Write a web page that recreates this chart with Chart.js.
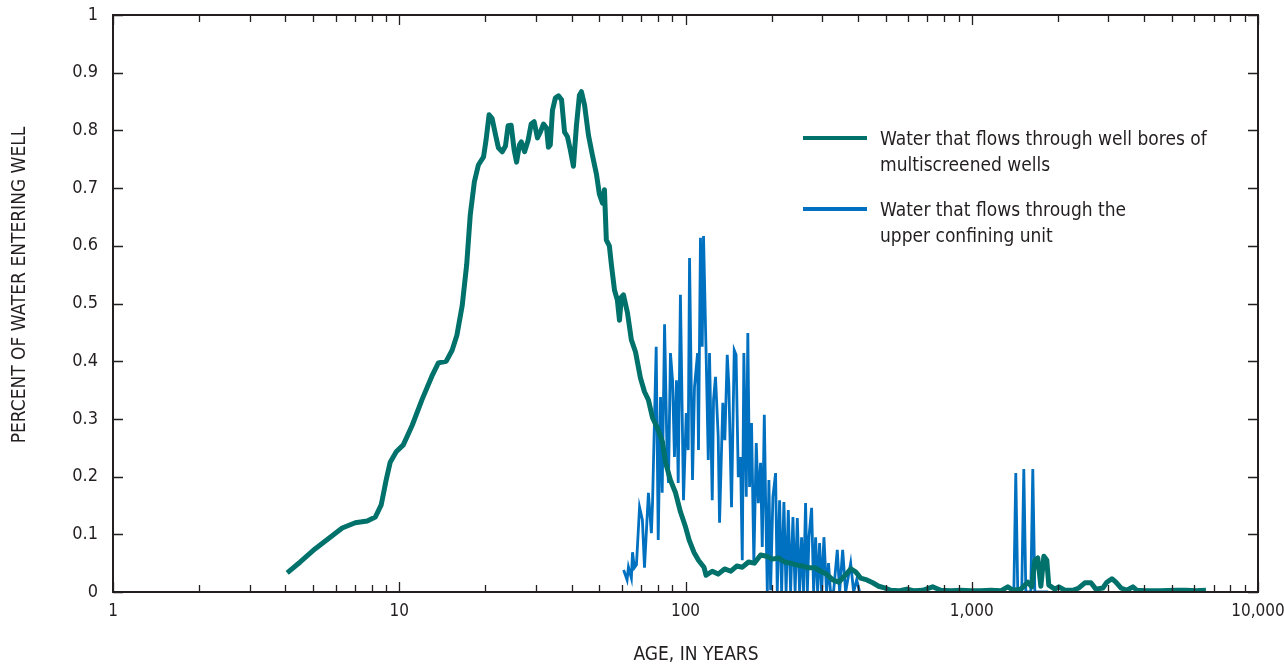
<!DOCTYPE html>
<html>
<head>
<meta charset="utf-8">
<script src="https://cdn.jsdelivr.net/npm/chart.js@4.4.1/dist/chart.umd.min.js"></script>
<style>
  html, body { margin: 0; padding: 0; background: #ffffff; }
  #wrap { width: 1284px; height: 667px; position: relative; }
</style>
</head>
<body>
<div id="wrap"><canvas id="ageChart" width="1284" height="667"></canvas></div>
<script>
// ========= Data =========
// Water that flows through well bores of multiscreened wells
const ageBores = [4.06, 4.51, 5.09, 5.74, 6.32, 7.02, 7.73, 8.25, 8.65, 9.0, 9.3, 9.76, 10.33, 11.1, 12.0, 13.0, 13.7, 14.6, 15.3, 15.9,
    16.6, 17.2, 17.7, 18.3, 18.9, 19.7, 20.1, 20.6, 21.1, 21.7, 22.2, 22.9, 23.5, 24.0, 24.6, 25.2, 25.7, 26.3, 26.7, 27.4,
    28.2, 28.9, 29.6, 30.4, 31.1, 31.9, 32.7, 33.2, 33.7, 34.3, 35.1, 36.0, 36.9, 37.8, 38.7, 39.6, 40.6, 41.6, 42.6, 43.3,
    44.4, 45.8, 47.3, 48.9, 50.0, 51.3, 52.1, 52.9, 54.2, 55.1, 56.5, 57.8, 58.8, 59.7, 60.7, 62.7, 64.7, 66.9, 69.6, 71.9,
    74.2, 76.7, 79.8, 83.1, 85.1, 88.6, 92.3, 96.0, 100, 103, 107, 111, 116, 118, 124, 130, 137, 144, 151, 158,
    166, 174, 183, 192, 201, 211, 222, 233, 244, 257, 269, 283, 297, 311, 327, 343, 360, 378, 393, 409,
    430, 451, 473, 496, 521, 556, 593, 632, 674, 730, 779, 845, 915, 992, 1075, 1165, 1263, 1336, 1391, 1484,
    1570, 1621, 1661, 1701, 1743, 1786, 1829, 1858, 1951, 2015, 2114, 2255, 2367, 2484, 2608, 2714, 2871, 2965, 3087, 3188,
    3319, 3483, 3656, 3776, 4059, 4580, 5169, 5602, 6071, 6580];
const pctBores = [0.033, 0.052, 0.075, 0.095, 0.111, 0.120, 0.123, 0.130, 0.151, 0.194, 0.225, 0.243, 0.255, 0.289, 0.333, 0.374, 0.397, 0.400, 0.419, 0.445,
    0.497, 0.567, 0.653, 0.711, 0.740, 0.754, 0.783, 0.827, 0.821, 0.792, 0.770, 0.763, 0.773, 0.808, 0.809, 0.766, 0.745, 0.775, 0.780, 0.763,
    0.783, 0.811, 0.815, 0.787, 0.797, 0.811, 0.804, 0.771, 0.775, 0.835, 0.856, 0.860, 0.853, 0.797, 0.789, 0.766, 0.738, 0.809, 0.861, 0.867,
    0.844, 0.792, 0.757, 0.723, 0.690, 0.674, 0.697, 0.610, 0.600, 0.567, 0.523, 0.506, 0.471, 0.511, 0.515, 0.484, 0.437, 0.416, 0.371, 0.347,
    0.333, 0.302, 0.284, 0.260, 0.225, 0.194, 0.172, 0.139, 0.113, 0.090, 0.069, 0.055, 0.043, 0.029, 0.036, 0.031, 0.040, 0.036, 0.045, 0.043,
    0.052, 0.050, 0.064, 0.062, 0.057, 0.059, 0.052, 0.050, 0.047, 0.045, 0.042, 0.042, 0.036, 0.031, 0.021, 0.017, 0.028, 0.040, 0.035, 0.024,
    0.021, 0.016, 0.010, 0.007, 0.003, 0.002, 0.005, 0.002, 0.003, 0.009, 0.003, 0.002, 0.003, 0.002, 0.002, 0.003, 0.002, 0.009, 0.003, 0.005,
    0.017, 0.009, 0.055, 0.059, 0.010, 0.062, 0.055, 0.012, 0.005, 0.009, 0.003, 0.003, 0.007, 0.016, 0.016, 0.005, 0.007, 0.017, 0.023, 0.017,
    0.007, 0.003, 0.009, 0.003, 0.002, 0.002, 0.003, 0.003, 0.002, 0.003];

// Water that flows through the upper confining unit (null = no value, line breaks)
const ageConfining = [60.8, 62.5, 63.2, 64.7, 65.3, 66.3, 67.4, 69.1, 70.7, 71.9, 74.2, 76.0, 76.7, 79.0, 80.3, 81.8, 82.9, 84.5, 86.3, 87.2,
    88.6, 90.1, 91.5, 93.0, 94.3, 96.0, 98.4, 100.6, 102.2, 103.3, 105.8, 107.5, 110.2, 111.0, 112.8, 114.4, 115.6, 118.1, 120.1, 121.3,
    124.0, 125.3, 127.3, 130.1, 131.5, 135.0, 137.2, 139.9, 141.7, 144.8, 148.0, 150.2, 152.9, 155.7, 157.9, 159.9, 163.0, 165.1, 167.4, 170.1,
    173.3, 176.7, 179.6, 182.9, 185.4, 188.5, 190.4, 193.1, 195.6, 198.3, 202.0, 206.4, 209.2, 213.2, 216.7, 220.7, 224.6, 228.6, 232.9, 237.3,
    241.5, 245.8, 250.4, 254.4, 258.5, 262.7, 266.5, 270, 275.8, 280.3, 284.8, 289.4, 294.1, 298.9, 304.5, 311, 316, 321, 329, 339,
    345.5, 354, 362.6, 377.6, 386.7, 396.2, 405.9, 800, 1403, 1425, 1448, 1495, 1520, 1545, 1608, 1634, 1661, 1850];
const pctConfining = [0.038, 0.021, 0.043, 0.024, 0.069, 0.042, 0.047, 0.147, 0.125, 0.042, 0.172, 0.102, 0.154, 0.425, 0.090, 0.338, 0.172, 0.464, 0.229, 0.189,
    0.414, 0.367, 0.234, 0.367, 0.189, 0.515, 0.159, 0.310, 0.246, 0.579, 0.194, 0.355, 0.414, 0.246, 0.614, 0.425, 0.617, 0.407, 0.229, 0.414,
    0.159, 0.333, 0.373, 0.269, 0.120, 0.328, 0.263, 0.411, 0.359, 0.147, 0.419, 0.411, 0.199, 0.234, 0.055, 0.414, 0.165, 0.449, 0.182, 0.293,
    0.050, 0.258, 0.154, 0.224, 0.078, 0.307, 0.165, 0.000, 0.194, 0.003, 0.165, 0.206, 0.000, 0.159, 0.000, 0.156, 0.000, 0.142, 0.000, 0.130,
    0.000, 0.128, 0.000, 0.095, 0.000, 0.154, 0.000, 0.095, 0.146, 0.000, 0.095, 0.000, 0.085, 0.000, 0.095, 0.000, 0.050, 0.000, 0.000, 0.073,
    0.000, 0.073, 0.000, 0.050, 0.000, 0.021, 0.000, null, 0.000, 0.206, 0.000, 0.000, 0.213, 0.000, 0.000, 0.213, 0.000, 0.000];

// ========= Axes =========
const xTickValues = [1, 2, 3, 4, 5, 6, 7, 8, 9, 10, 20, 30, 40, 50, 60, 70, 80, 90, 100, 200, 300, 400, 500, 600, 700, 800, 900,
    1000, 2000, 3000, 4000, 5000, 6000, 7000, 8000, 9000, 10000];
const xMajorValues = [1, 10, 100, 1000, 10000];
const xTickLabels = ["1", "10", "100", "1,000", "10,000"];
const yTickLabels = ["0", "0.1", "0.2", "0.3", "0.4", "0.5", "0.6", "0.7", "0.8", "0.9", "1"];

const seriesLabels = [
    ["Water that flows through well bores of", "multiscreened wells"],
    ["Water that flows through the", "upper confining unit"],
];
const xTitle = "AGE, IN YEARS";
const yTitle = "PERCENT OF WATER ENTERING WELL";

const TEAL = "#00716b";
const BLUE = "#0070c0";
const INK = "#231f20";
const FONT = "'Liberation Sans Narrow', 'DejaVu Sans Condensed', 'Roboto Condensed', Roboto, sans-serif";

function toPoints(xs, ys) {
    return xs.map((v, i) => ({ x: v, y: ys[i] }));
}

// ========= Frame, inward ticks, legend and titles =========
const framePlugin = {
    id: "frame",
    afterDraw(chart) {
        const { ctx, chartArea: a, scales } = chart;
        const x = scales.x;
        const y = scales.y;
        ctx.save();
        ctx.strokeStyle = INK;
        ctx.lineWidth = 2;
        ctx.strokeRect(a.left, a.top, a.right - a.left, a.bottom - a.top);

        ctx.lineWidth = 1.3;
        ctx.beginPath();
        xTickValues.forEach((v) => {
            const px = Math.round(x.getPixelForValue(v)) + 0.5;
            const len = xMajorValues.includes(v) ? 10 : 7;
            ctx.moveTo(px, a.bottom);
            ctx.lineTo(px, a.bottom - len);
            ctx.moveTo(px, a.top);
            ctx.lineTo(px, a.top + len);
        });
        yTickLabels.forEach((lab) => {
            const py = Math.round(y.getPixelForValue(parseFloat(lab))) + 0.5;
            ctx.moveTo(a.left, py);
            ctx.lineTo(a.left + 10, py);
            ctx.moveTo(a.right, py);
            ctx.lineTo(a.right - 10, py);
        });
        ctx.stroke();

        // legend
        const colors = [TEAL, BLUE];
        const rows = [138, 209];
        ctx.lineWidth = 4;
        ctx.font = "19px " + FONT;
        ctx.textBaseline = "alphabetic";
        ctx.textAlign = "left";
        rows.forEach((ly, i) => {
            ctx.strokeStyle = colors[i];
            ctx.beginPath();
            ctx.moveTo(803, ly);
            ctx.lineTo(867, ly);
            ctx.stroke();
            ctx.fillStyle = INK;
            seriesLabels[i].forEach((line, j) => {
                ctx.fillText(line, 880, ly + 7 + j * 26);
            });
        });

        // axis titles
        ctx.font = "19px " + FONT;
        ctx.textAlign = "center";
        ctx.textBaseline = "middle";
        ctx.fillText(xTitle, 696, 655);
        ctx.translate(20, 285);
        ctx.rotate(-Math.PI / 2);
        ctx.fillText(yTitle, 0, 0);
        ctx.restore();
    },
};

// ========= Chart =========
const ctx = document.getElementById("ageChart");
new Chart(ctx, {
    type: "line",
    data: {
        datasets: [
            {
                label: seriesLabels[0].join(" "),
                data: toPoints(ageBores, pctBores),
                borderColor: TEAL,
                borderWidth: 5,
                borderJoinStyle: "round",
                borderCapStyle: "butt",
                pointRadius: 0,
                tension: 0,
            },
            {
                label: seriesLabels[1].join(" "),
                data: toPoints(ageConfining, pctConfining),
                borderColor: BLUE,
                borderWidth: 2.8,
                pointRadius: 0,
                tension: 0,
                spanGaps: false,
            },
        ],
    },
    options: {
        responsive: false,
        animation: false,
        layout: { padding: { left: 0, top: 15, right: 26, bottom: 0 } },
        plugins: {
            legend: { display: false },
            tooltip: { enabled: false },
        },
        scales: {
            x: {
                type: "logarithmic",
                min: 1,
                max: 10000,
                grid: { display: false, drawTicks: false },
                border: { display: false },
                afterBuildTicks: (scale) => {
                    scale.ticks = xTickValues.map((v) => ({ value: v }));
                },
                afterFit: (scale) => {
                    scale.height = 75;
                    scale.paddingLeft = 0;
                    scale.paddingRight = 0;
                },
                ticks: {
                    autoSkip: false,
                    maxRotation: 0,
                    padding: 9,
                    color: INK,
                    font: { family: FONT, size: 17 },
                    callback: (v) => {
                        const k = xMajorValues.indexOf(v);
                        return k >= 0 ? xTickLabels[k] : "";
                    },
                },
            },
            y: {
                min: 0,
                max: 1,
                grid: { display: false, drawTicks: false },
                border: { display: false },
                afterBuildTicks: (scale) => {
                    scale.ticks = yTickLabels.map((t) => ({ value: parseFloat(t) }));
                },
                afterFit: (scale) => {
                    scale.width = 113;
                    scale.paddingTop = 0;
                    scale.paddingBottom = 0;
                },
                ticks: {
                    padding: 15,
                    color: INK,
                    font: { family: FONT, size: 18 },
                    callback: (v, i) => yTickLabels[i],
                },
            },
        },
    },
    plugins: [framePlugin],
});
</script>
</body>
</html>
